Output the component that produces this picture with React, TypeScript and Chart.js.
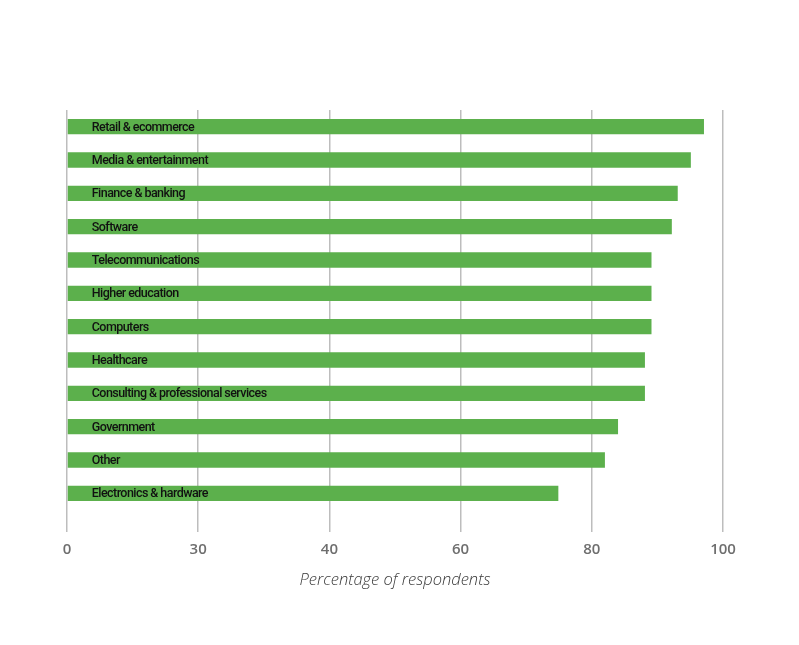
import React, { useEffect, useRef } from "react";
import { Chart, registerables } from "chart.js";

Chart.register(...registerables);

const categories = [
  "Retail & ecommerce",
  "Media & entertainment",
  "Finance & banking",
  "Software",
  "Telecommunications",
  "Higher education",
  "Computers",
  "Healthcare",
  "Consulting & professional services",
  "Government",
  "Other",
  "Electronics & hardware",
];

const values = [97.1, 95.1, 93.1, 92.2, 89.1, 89.1, 89.1, 88.1, 88.1, 84.0, 82.0, 74.9];

const tickValues = [0, 20, 40, 60, 80, 100];
const tickLabels = ["0", "30", "40", "60", "80", "100"];

const axisTitle = "Percentage of respondents";

const barLabelPlugin = {
  id: "barLabels",
  afterDatasetsDraw(chart: any) {
    const ctx = chart.ctx;
    const meta = chart.getDatasetMeta(0);
    ctx.save();
    ctx.font = "500 12.5px Roboto";
    ctx.fillStyle = "#111111";
    ctx.textAlign = "left";
    ctx.textBaseline = "middle";
    try { (ctx as any).letterSpacing = "-0.55px"; } catch (e) {}
    meta.data.forEach((bar: any, i: number) => {
      ctx.fillText(categories[i], bar.base + 24, bar.y + 1);
    });
    ctx.restore();
  },
};

export default function App() {
  const ref = useRef<HTMLCanvasElement | null>(null);

  useEffect(() => {
    if (!ref.current) return;
    const chart = new Chart(ref.current, {
      type: "bar",
      data: {
        labels: categories,
        datasets: [
          {
            data: values,
            backgroundColor: "#5cb04c",
            borderWidth: 0,
            categoryPercentage: 1,
            barPercentage: 0.46,
          },
        ],
      },
      options: {
        indexAxis: "y",
        animation: false,
        responsive: true,
        maintainAspectRatio: false,
        layout: { padding: { left: 67, right: 76, top: 110, bottom: 49 } },
        plugins: {
          legend: { display: false },
          tooltip: { enabled: false },
        },
        scales: {
          y: { display: false },
          x: {
            type: "linear",
            min: 0,
            max: 100,
            afterBuildTicks: (scale: any) => {
              scale.ticks = tickValues.map((v) => ({ value: v }));
            },
            afterFit: (scale: any) => {
              scale.height = 86;
            },
            border: { display: false },
            grid: {
              color: "#bdbdbd",
              lineWidth: 1.5,
              drawTicks: true,
              tickLength: 22,
            },
            ticks: {
              padding: 9,
              color: "#6e6e6e",
              font: { family: "'Open Sans'", size: 15, weight: "600" },
              callback: (v: any) => {
                const i = tickValues.indexOf(Number(v));
                return i >= 0 ? tickLabels[i] : "";
              },
            },
            title: {
              display: true,
              text: axisTitle,
              color: "#3a3a3a",
              font: { family: "'Open Sans'", size: 16.5, style: "italic", weight: "300" },
              padding: { top: 0, bottom: 6 },
            },
          },
        },
      },
      plugins: [barLabelPlugin],
    });
    return () => chart.destroy();
  }, []);

  return (
    <div style={{ position: "fixed", left: 0, top: 0, width: 799, height: 645, background: "#ffffff" }}>
      <canvas ref={ref} />
    </div>
  );
}
